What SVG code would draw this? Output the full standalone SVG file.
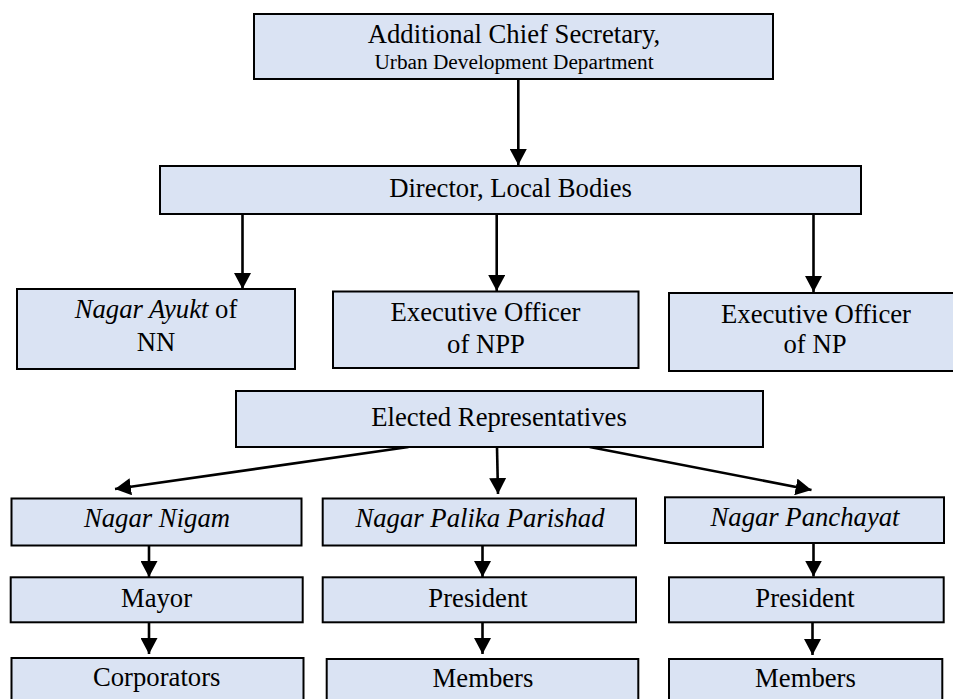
<svg xmlns="http://www.w3.org/2000/svg" width="953" height="699" viewBox="0 0 953 699">
<style>
.box{fill:#DAE3F3;stroke:#000;stroke-width:2}
.t{font-family:'Liberation Serif',Tinos,'Times New Roman',Times,'Noto Serif','DejaVu Serif',serif;font-size:26.7px;fill:#000;text-anchor:middle}
.s{font-size:21.3px}
.i{font-style:italic}
.c{stroke:#000;stroke-width:2.6;fill:none;marker-end:url(#ah)}
</style>
<defs>
<marker id="ah" markerUnits="userSpaceOnUse" markerWidth="17" markerHeight="17" viewBox="0 0 16 16" refX="15" refY="8" orient="auto">
<path d="M0,0 L15,8 L0,16 z" fill="#000"/>
</marker>
</defs>
<rect width="953" height="699" fill="#fff"/>
<g id="connectors">
<line class="c" x1="518.3" y1="79" x2="518.3" y2="165"/>
<line class="c" x1="242.5" y1="215" x2="242.5" y2="289"/>
<line class="c" x1="496.7" y1="215" x2="496.7" y2="291"/>
<line class="c" x1="813.5" y1="215" x2="813.5" y2="292"/>
<line class="c" x1="408.5" y1="447" x2="115" y2="489"/>
<line class="c" x1="497" y1="447" x2="498" y2="494"/>
<line class="c" x1="589.7" y1="447" x2="811.5" y2="490"/>
<line class="c" x1="149" y1="545.7" x2="149" y2="577"/>
<line class="c" x1="482.5" y1="545.7" x2="482.5" y2="577"/>
<line class="c" x1="813.5" y1="541" x2="813.5" y2="576.5"/>
<line class="c" x1="149" y1="622.3" x2="149" y2="654"/>
<line class="c" x1="482.5" y1="622.3" x2="482.5" y2="654"/>
<line class="c" x1="812.5" y1="622.3" x2="812.5" y2="655"/>
</g>
<g id="acs">
<rect class="box" x="254" y="14" width="519" height="65"/>
<text class="t" x="514" y="43.3">Additional Chief Secretary,</text>
<text class="t s" x="514" y="69">Urban Development Department</text>
</g>
<g id="director">
<rect class="box" x="160" y="166" width="701" height="48"/>
<text class="t" x="510.5" y="196.7">Director, Local Bodies</text>
</g>
<g id="nagar-ayukt">
<rect class="box" x="17" y="289" width="278" height="80"/>
<text class="t" x="156" y="318.3"><tspan class="i">Nagar Ayukt</tspan> of</text>
<text class="t" x="156" y="351">NN</text>
</g>
<g id="eo-npp">
<rect class="box" x="333" y="291.5" width="305.5" height="76.5"/>
<text class="t" x="485.5" y="320.7">Executive Officer</text>
<text class="t" x="486" y="352.7">of NPP</text>
</g>
<g id="eo-np">
<rect class="box" x="669" y="293" width="292" height="78"/>
<text class="t" x="816" y="323.3">Executive Officer</text>
<text class="t" x="815" y="352.7">of NP</text>
</g>
<g id="elected">
<rect class="box" x="236" y="391" width="527" height="56"/>
<text class="t" x="499" y="426">Elected Representatives</text>
</g>
<g id="nagar-nigam">
<rect class="box" x="11.5" y="498.5" width="290" height="47"/>
<text class="t i" x="157" y="527.3">Nagar Nigam</text>
</g>
<g id="nagar-palika-parishad">
<rect class="box" x="322.7" y="498.5" width="313.3" height="47"/>
<text class="t i" x="480" y="527.3">Nagar Palika Parishad</text>
</g>
<g id="nagar-panchayat">
<rect class="box" x="665" y="497.3" width="279" height="45.7"/>
<text class="t i" x="805" y="525.7">Nagar Panchayat</text>
</g>
<g id="mayor">
<rect class="box" x="10.7" y="577.3" width="292" height="45"/>
<text class="t" x="156.5" y="607.3">Mayor</text>
</g>
<g id="president-npp">
<rect class="box" x="322.7" y="577.3" width="313.3" height="45"/>
<text class="t" x="478" y="607.3">President</text>
</g>
<g id="president-np">
<rect class="box" x="669" y="577.3" width="274.7" height="45"/>
<text class="t" x="805" y="607.3">President</text>
</g>
<g id="corporators">
<rect class="box" x="11.5" y="658" width="292" height="50"/>
<text class="t" x="156.7" y="685.7">Corporators</text>
</g>
<g id="members-npp">
<rect class="box" x="326.7" y="659" width="311.6" height="50"/>
<text class="t" x="483" y="687.3">Members</text>
</g>
<g id="members-np">
<rect class="box" x="669" y="659" width="273.3" height="50"/>
<text class="t" x="805.5" y="687.3">Members</text>
</g>
</svg>
